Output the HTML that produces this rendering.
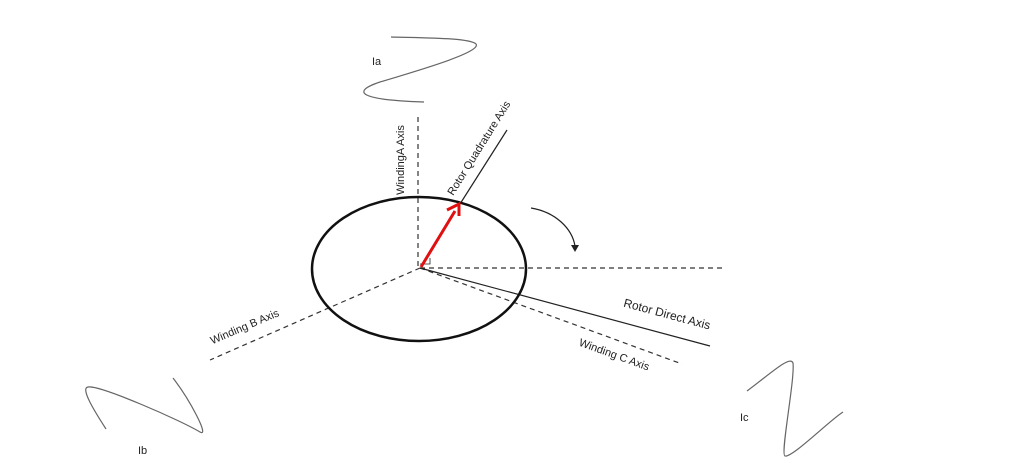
<!DOCTYPE html>
<html><head><style>body{margin:0;background:#fff}</style></head><body>
<svg width="1020" height="461" xmlns="http://www.w3.org/2000/svg" font-family="Liberation Sans, sans-serif" font-size="11" fill="#222">
<rect width="1020" height="461" fill="#fff"/>
<g stroke="#333" stroke-width="1.2" stroke-dasharray="5,4" fill="none">
<line x1="418" y1="117" x2="418" y2="268"/>
<line x1="420" y1="268" x2="724" y2="268"/>
<line x1="420" y1="268" x2="682" y2="364"/>
<line x1="420" y1="268" x2="210" y2="360"/>
</g>
<g stroke="#222" stroke-width="1.2" fill="none">
<line x1="420" y1="268" x2="710" y2="346"/>
<line x1="460" y1="204" x2="507" y2="130"/>
<path d="M420 264 h10 v-6" stroke-width="0.8"/>
</g>
<ellipse cx="419" cy="269" rx="107" ry="72" fill="none" stroke="#111" stroke-width="2.5"/>
<line x1="421" y1="267" x2="455" y2="211" stroke="#e01010" stroke-width="3"/>
<path d="M447 210 L459 204 L459 216" fill="none" stroke="#e01010" stroke-width="3"/>
<g stroke="#666" stroke-width="1.2" fill="none">
<path d="M391 37 C430 38 470 38 476 44 C482 52 420 70 380 82 C350 92 360 100 424 102"/>
<path d="M106 429 C95 412 80 388 88 387 C100 385 180 420 200 432 C210 438 190 400 173 378"/>
<path d="M747 391 C770 374 790 355 793 363 C795 380 780 455 785 456 C792 458 830 420 843 412"/>
</g>
<path d="M531 208 C555 212 572 228 575 246" fill="none" stroke="#222" stroke-width="1.2"/>
<path d="M571 245 L579 245 L575 252 Z" fill="#222"/>
<text x="372" y="65">Ia</text>
<text x="138" y="454">Ib</text>
<text x="740" y="421">Ic</text>
<text transform="translate(404,160) rotate(-90)" text-anchor="middle">WindingA Axis</text>
<text transform="translate(482,150) rotate(-58)" text-anchor="middle">Rotor Quadrature Axis</text>
<text transform="translate(246,330) rotate(-23)" text-anchor="middle">Winding B Axis</text>
<text transform="translate(666,318) rotate(15)" text-anchor="middle" font-size="12">Rotor Direct Axis</text>
<text transform="translate(613,358) rotate(20)" text-anchor="middle">Winding C Axis</text>
</svg>
</body></html>
